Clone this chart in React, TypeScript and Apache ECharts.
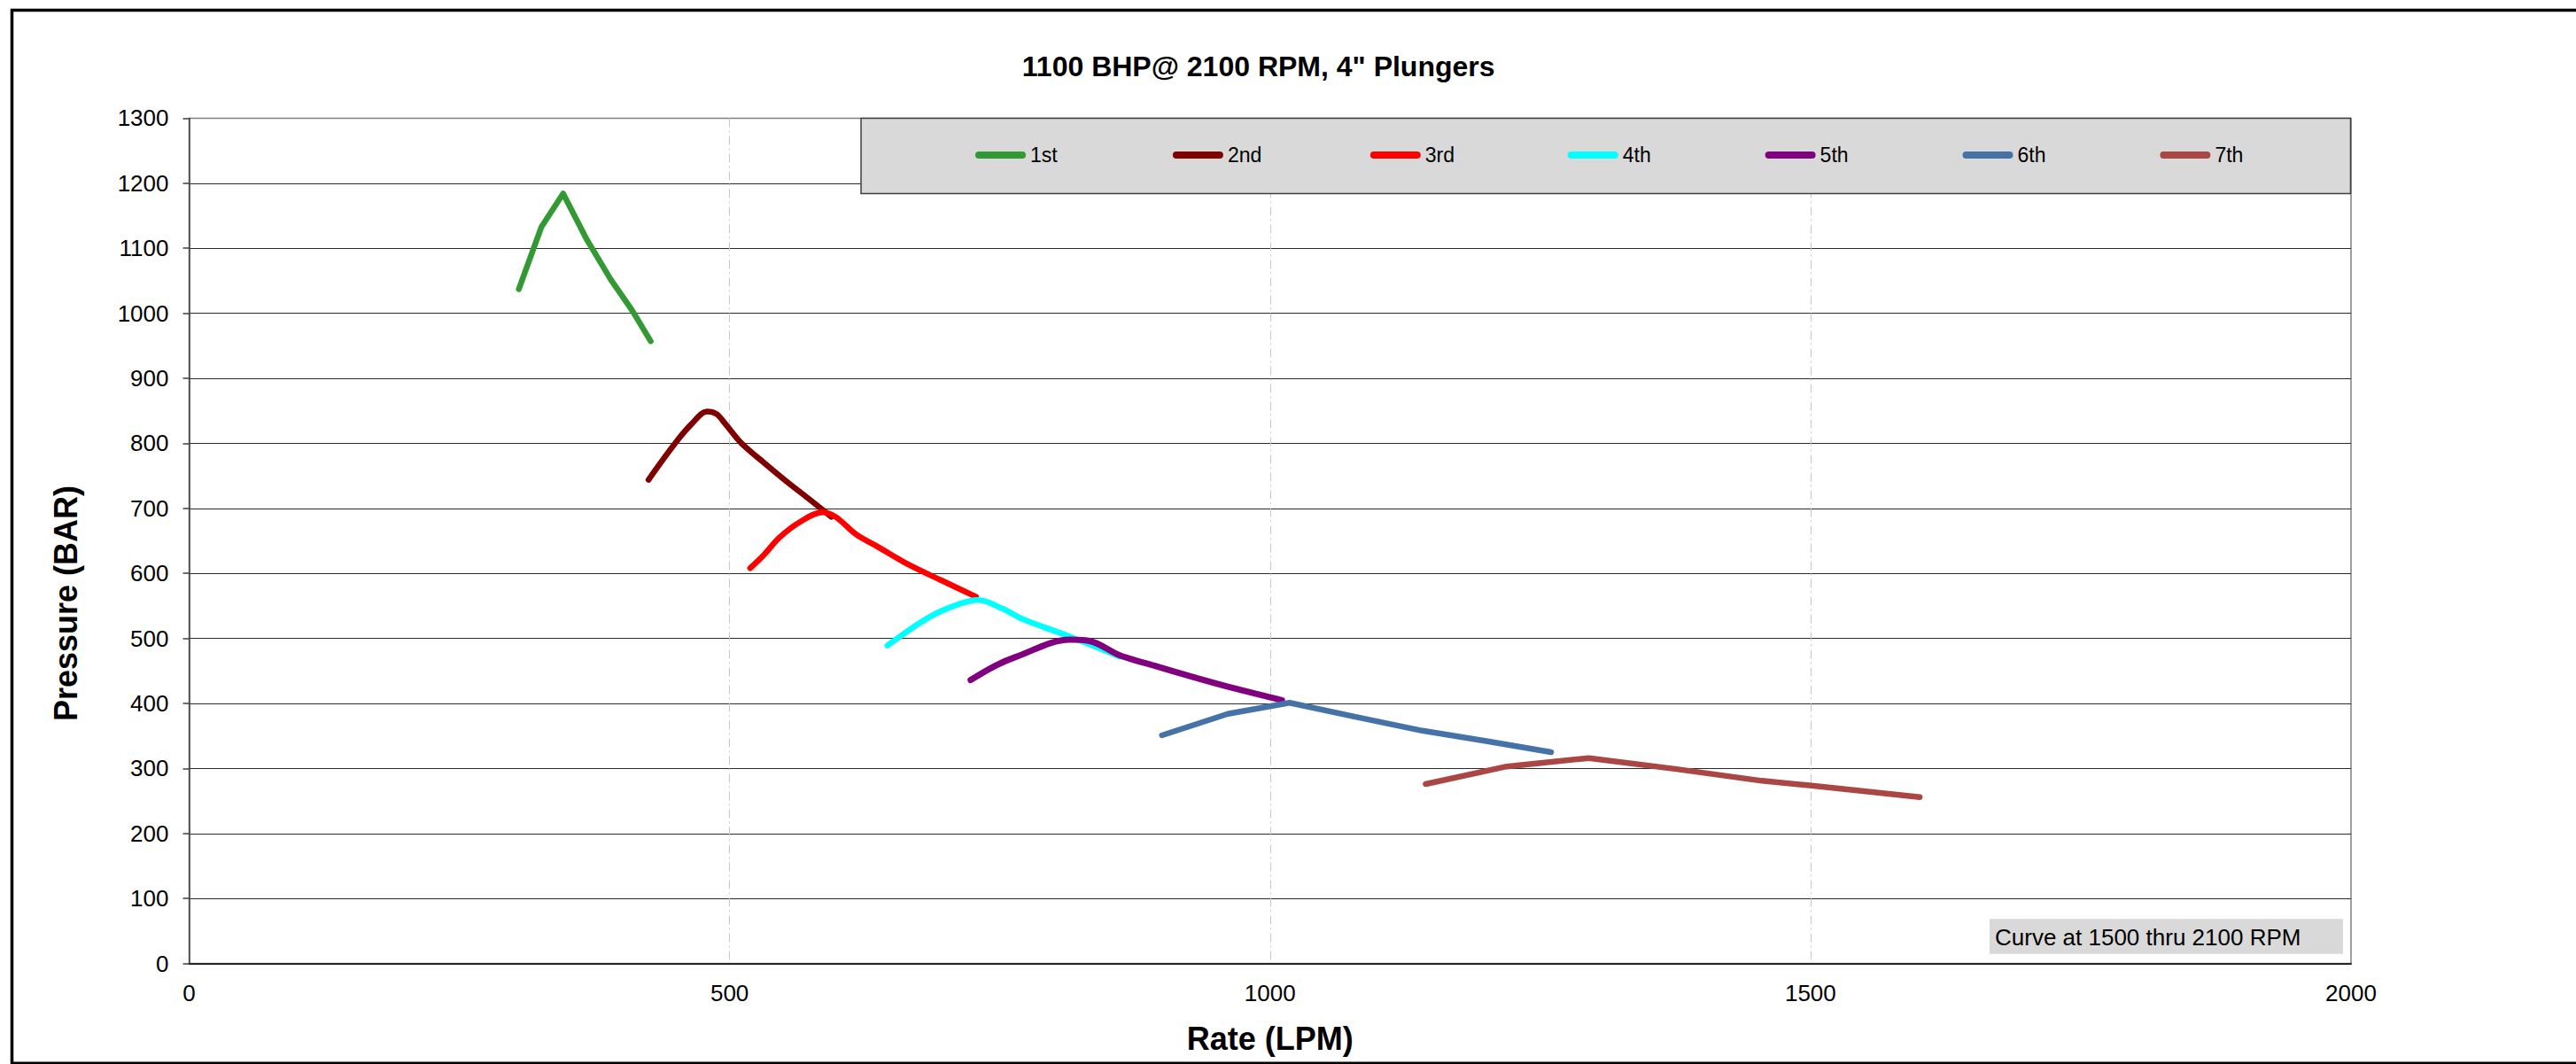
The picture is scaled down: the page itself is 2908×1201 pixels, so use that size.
import React, { useEffect, useRef } from "react";
import * as echarts from "echarts";

const FONT = '"Liberation Sans", Arial, Helvetica, sans-serif';

const chartTitle = '1100 BHP@ 2100 RPM, 4" Plungers';
const xAxisTitle = "Rate (LPM)";
const yAxisTitle = "Pressure (BAR)";
const noteText = "Curve at 1500 thru 2100 RPM";

const xMin = 0;
const xMax = 2000;
const xStep = 500;
const yMin = 0;
const yMax = 1300;
const yStep = 100;

const seriesNames = ["1st", "2nd", "3rd", "4th", "5th", "6th", "7th"];
const seriesColors = ["#339933", "#800000", "#FF0000", "#00FFFF", "#800080", "#4572A7", "#AA4643"];
const seriesSmooth = [false, true, true, true, true, false, false];

// [rate LPM, pressure BAR]
const gear1 = [[305, 1037], [326, 1133], [346, 1184], [368, 1113], [390, 1052], [410, 1004], [427, 957]];
const gear2 = [[425, 744], [450, 801], [465, 830], [479, 849], [488, 845], [496, 830], [511, 800], [532, 770], [553, 741], [573, 715], [594, 687]];
const gear3 = [[519, 608], [532, 629], [546, 655], [565, 679], [586, 694], [598, 687], [617, 660], [636, 642], [665, 614], [695, 590], [728, 564]];
const gear4 = [[646, 489], [684, 532], [711, 552], [730, 559], [752, 546], [772, 529], [813, 504], [861, 472]];
const gear5 = [[723, 436], [746, 458], [764, 471], [815, 498], [833, 496], [861, 474], [893, 458], [930, 440], [965, 424], [1011, 405]];
const gear6 = [[900, 351], [961, 384], [1018, 401], [1080, 379], [1141, 358], [1200, 342], [1260, 325]];
const gear7 = [[1144, 276], [1219, 303], [1295, 316], [1376, 299], [1455, 281], [1499, 274], [1601, 256]];

const seriesData = [gear1, gear2, gear3, gear4, gear5, gear6, gear7];

export default function App() {
  const ref = useRef<HTMLDivElement>(null);

  useEffect(() => {
    document.body.style.margin = "0";
    document.body.style.overflow = "hidden";
    const chart = echarts.init(ref.current!, null, { renderer: "svg" });

    const series = seriesNames.map((name, i) => ({
      name,
      type: "line",
      data: seriesData[i],
      symbol: "none",
      showSymbol: false,
      smooth: seriesSmooth[i] ? 0.35 : false,
      color: seriesColors[i],
      itemStyle: { color: seriesColors[i] },
      lineStyle: { color: seriesColors[i], width: i === 4 ? 7 : 6.5, cap: "round", join: "round" },
      emphasis: { disabled: true },
      z: 2 + i * 0.01,
    }));

    chart.setOption({
      animation: false,
      backgroundColor: "#ffffff",
      textStyle: { fontFamily: FONT },
      grid: {
        left: 213.5,
        top: 133.4,
        width: 2440.5,
        height: 954.2,
        show: true,
        borderColor: "#808080",
        borderWidth: 1.5,
        backgroundColor: "transparent",
        containLabel: false,
      },
      xAxis: {
        type: "value",
        min: xMin,
        max: xMax,
        interval: xStep,
        axisLine: { show: true, onZero: false, lineStyle: { color: "#262626", width: 2 } },
        axisTick: { show: false },
        axisLabel: { fontSize: 26, color: "#000", fontFamily: FONT, margin: 20, formatter: (v: number) => String(v) },
        splitLine: {
          show: true,
          showMinLine: false,
          showMaxLine: false,
          lineStyle: { color: "#C8C8C8", width: 1, type: [10, 4, 2, 4] },
        },
      },
      yAxis: {
        type: "value",
        min: yMin,
        max: yMax,
        interval: yStep,
        axisLine: { show: true, lineStyle: { color: "#404040", width: 1.5 } },
        axisTick: { show: true, length: 7, lineStyle: { color: "#404040", width: 1.5 } },
        axisLabel: { fontSize: 26, color: "#000", fontFamily: FONT, margin: 23, formatter: (v: number) => String(v) },
        splitLine: {
          show: true,
          showMinLine: false,
          showMaxLine: false,
          lineStyle: { color: "#2a2a2a", width: 1.2 },
        },
      },
      legend: {
        data: seriesNames,
        left: 1101,
        top: 162,
        padding: 0,
        itemWidth: 57,
        itemHeight: 8,
        itemGap: 12.9,
        selectedMode: false,
        icon: "path://M4,0L53,0A4,4,0,0,1,53,8L4,8A4,4,0,0,1,4,0Z",
        textStyle: { fontSize: 23, fontFamily: FONT, color: "#000", width: 148, lineHeight: 26 },
        z: 10,
      },
      series,
      graphic: [
        {
          type: "rect",
          silent: true,
          z: 0,
          shape: { x: 13.5, y: 11.5, width: 2920, height: 1188.7 },
          style: { fill: "none", stroke: "#000", lineWidth: 3.5 },
        },
        {
          type: "rect",
          silent: true,
          z: 5,
          shape: { x: 972, y: 133.4, width: 1681.5, height: 85 },
          style: { fill: "#D9D9D9", stroke: "#404040", lineWidth: 1.5 },
        },
        {
          type: "rect",
          silent: true,
          z: 5,
          shape: { x: 2246, y: 1037.3, width: 399, height: 39.4 },
          style: { fill: "#D9D9D9" },
        },
        {
          type: "text",
          silent: true,
          z: 6,
          x: 2252,
          y: 1057.5,
          style: {
            text: noteText,
            fontSize: 26,
            fontFamily: FONT,
            fill: "#000",
            align: "left",
            verticalAlign: "middle",
          },
        },
        {
          type: "text",
          silent: true,
          z: 6,
          x: 1420.7,
          y: 75,
          style: {
            text: chartTitle,
            fontSize: 32,
            fontWeight: "bold",
            fontFamily: FONT,
            fill: "#000",
            align: "center",
            verticalAlign: "middle",
          },
        },
        {
          type: "text",
          silent: true,
          z: 6,
          x: 74,
          y: 681,
          rotation: Math.PI / 2,
          style: {
            text: yAxisTitle,
            fontSize: 36,
            fontWeight: "bold",
            fontFamily: FONT,
            fill: "#000",
            align: "center",
            verticalAlign: "middle",
          },
        },
        {
          type: "text",
          silent: true,
          z: 6,
          x: 1433.8,
          y: 1172,
          style: {
            text: xAxisTitle,
            fontSize: 36,
            fontWeight: "bold",
            fontFamily: FONT,
            fill: "#000",
            align: "center",
            verticalAlign: "middle",
          },
        },
      ],
    });

    return () => chart.dispose();
  }, []);

  return <div ref={ref} style={{ width: 2908, height: 1201 }} />;
}
